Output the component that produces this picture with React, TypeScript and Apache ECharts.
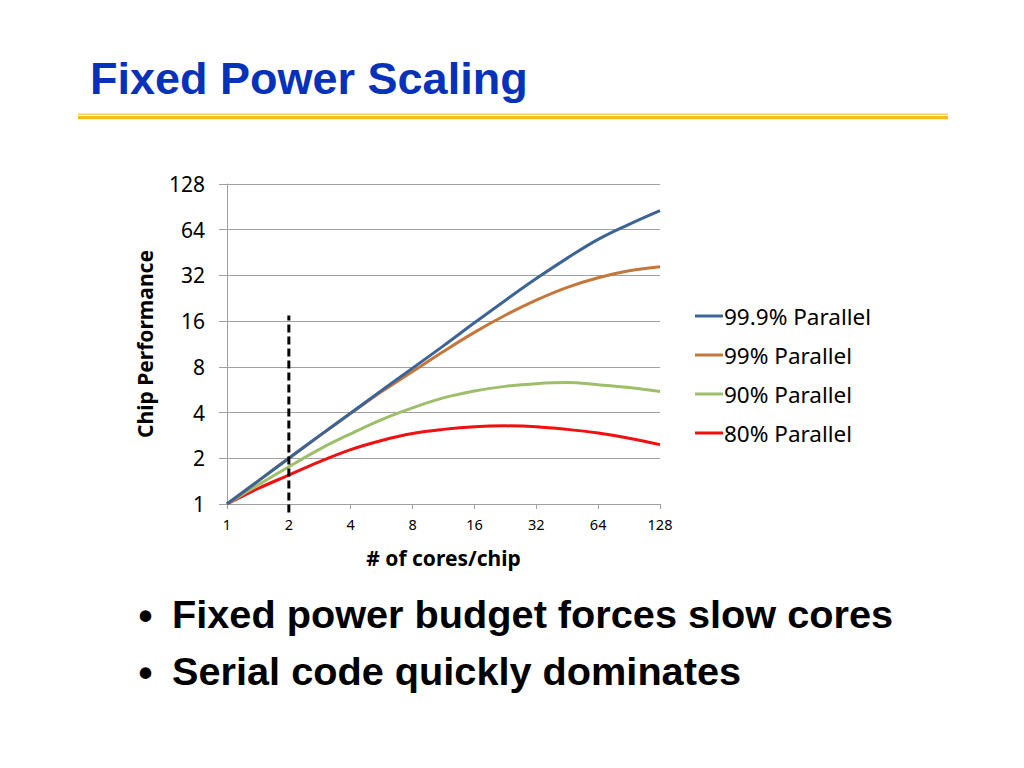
import React, { useEffect, useRef } from "react";
import * as echarts from "echarts";

const xCores = [1, 1.41, 2, 2.83, 4, 5.66, 8, 11.3, 16, 22.6, 32, 45.3, 64, 90.5, 128];
const par999 = [1, 1.41, 2, 2.83, 3.97, 5.6, 7.85, 11, 15.6, 21.9, 30.5, 41.6, 55.3, 69.5, 85.6];
const par99 = [1, 1.41, 2, 2.82, 3.95, 5.5, 7.45, 10.1, 13.5, 17.5, 22, 26.7, 30.9, 34.3, 36.5];
const par90 = [1, 1.33, 1.76, 2.3, 2.9, 3.6, 4.3, 5.0, 5.55, 5.95, 6.2, 6.3, 6.1, 5.85, 5.5];
const par80 = [1, 1.26, 1.55, 1.9, 2.28, 2.62, 2.91, 3.1, 3.23, 3.27, 3.23, 3.1, 2.93, 2.71, 2.46];
const seriesNames = ["99.9% Parallel", "99% Parallel", "90% Parallel", "80% Parallel"];
const seriesColors = ["#3C6496", "#C5773B", "#9DBE6A", "#F01010"];
const dashX = [2, 2];
const dashY = [0.88, 17.4];

const titleText = "Fixed Power Scaling";
const bullets = ["Fixed power budget forces slow cores", "Serial code quickly dominates"];

const chartFont = "'Noto Sans', 'Open Sans', sans-serif";
const slideFont = "'Liberation Sans', Arial, Helvetica, sans-serif";

export default function App() {
  const ref = useRef<HTMLDivElement>(null);
  useEffect(() => {
    if (!ref.current) return;
    const chart = echarts.init(ref.current, undefined, { renderer: "svg" });
    const allSeries = [par999, par99, par90, par80];
    const lineSeries = allSeries.map((vals, i) => ({
      name: seriesNames[i],
      type: "line",
      data: xCores.map((x, j) => [x, vals[j]]),
      smooth: 0.4,
      showSymbol: false,
      symbol: "none",
      lineStyle: { color: seriesColors[i], width: 3 },
      itemStyle: { color: seriesColors[i] },
      z: 3 + (3 - i),
    }));
    chart.setOption({
      animation: false,
      backgroundColor: "#ffffff",
      grid: { left: 227, right: 364, top: 184, bottom: 264, containLabel: false },
      legend: {
        orient: "vertical",
        left: 695,
        top: 304,
        padding: 0,
        icon: "rect",
        itemWidth: 28,
        itemHeight: 3,
        itemGap: 15,
        data: seriesNames,
        textStyle: {
          fontFamily: chartFont,
          fontSize: 22.5,
          color: "#000",
          lineHeight: 24,
          padding: [0, 0, 0, -4],
        },
      },
      xAxis: {
        type: "log",
        logBase: 2,
        min: 1,
        max: 128,
        interval: 1,
        name: "# of cores/chip",
        nameLocation: "middle",
        nameGap: 43,
        nameTextStyle: { fontFamily: chartFont, fontSize: 21, fontWeight: "bold", color: "#000" },
        axisLine: { lineStyle: { color: "#A0A0A0", width: 1 } },
        axisTick: { show: true, length: 5, lineStyle: { color: "#A0A0A0" } },
        axisLabel: { fontFamily: chartFont, fontSize: 14.5, color: "#000", margin: 12 },
        splitLine: { show: false },
      },
      yAxis: {
        type: "log",
        logBase: 2,
        min: 1,
        max: 128,
        interval: 1,
        name: "Chip Performance",
        nameLocation: "middle",
        nameGap: 72,
        nameRotate: 90,
        nameTextStyle: { fontFamily: chartFont, fontSize: 21, fontWeight: "bold", color: "#000" },
        axisLine: { show: true, lineStyle: { color: "#A0A0A0", width: 1 } },
        axisTick: { show: true, length: 8, lineStyle: { color: "#A0A0A0" } },
        axisLabel: { fontFamily: chartFont, fontSize: 21, color: "#000", margin: 22 },
        splitLine: { show: true, lineStyle: { color: "#A0A0A0", width: 1 } },
      },
      series: [
        ...lineSeries,
        {
          name: "dash",
          type: "line",
          data: dashX.map((x, i) => [x, dashY[i]]),
          showSymbol: false,
          symbol: "none",
          clip: false,
          lineStyle: { color: "#000", width: 3, type: [8, 4] },
          z: 10,
        },
      ],
      graphic: [
        {
          type: "text",
          left: 90,
          top: 56,
          style: {
            text: titleText,
            fontFamily: slideFont,
            fontSize: 45,
            fontWeight: "bold",
            fill: "#0532B9",
          },
        },
        { type: "rect", shape: { x: 78, y: 113.5, width: 870, height: 1.6 }, style: { fill: "#F6CF63" } },
        { type: "rect", shape: { x: 78, y: 116, width: 870, height: 3.2 }, style: { fill: "#F1BE22" } },
        ...bullets.flatMap((b, i) => [
          {
            type: "text",
            x: 145.5,
            y: 615.5 + i * 57,
            style: {
              text: "\u2022",
              fontFamily: slideFont,
              fontSize: 40,
              fontWeight: "bold",
              fill: "#000",
              align: "center",
              verticalAlign: "middle",
            },
          },
          {
            type: "text",
            x: 172,
            y: 614 + i * 57,
            style: {
              text: b,
              fontFamily: slideFont,
              fontSize: 39.7,
              fontWeight: "bold",
              fill: "#000",
              align: "left",
              verticalAlign: "middle",
            },
          },
        ]),
      ],
    });
    return () => chart.dispose();
  }, []);
  return (
    <div
      ref={ref}
      style={{ position: "fixed", left: 0, top: 0, width: 1024, height: 768, background: "#fff" }}
    />
  );
}
